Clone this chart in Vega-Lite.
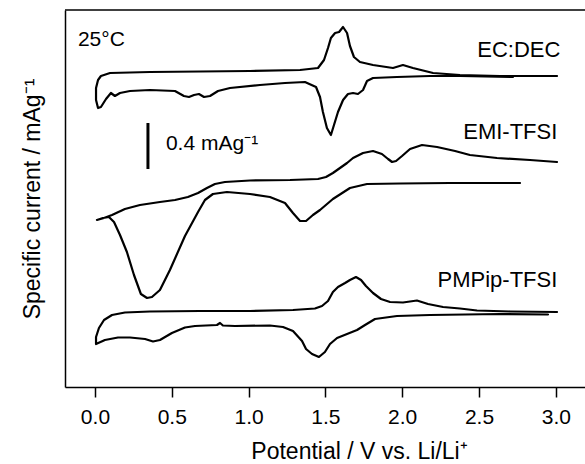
{
  "$schema": "https://vega.github.io/schema/vega-lite/v6.json",
  "width": 520,
  "height": 377,
  "autosize": {"type": "none"},
  "padding": {"left": 65, "top": 10, "right": 0, "bottom": 77},
  "background": "white",
  "config": {
    "view": {"stroke": null},
    "font": "Liberation Sans",
    "axis": {"grid": false}
  },
  "encoding": {
    "x": {
      "field": "v", "type": "quantitative",
      "scale": {"domain": [-0.195, 3.19], "nice": false, "zero": false},
      "axis": {
        "values": [0, 0.5, 1, 1.5, 2, 2.5, 3], "format": ".1f",
        "title": "Potential / V vs. Li/Li⁺",
        "domainColor": "black", "domainWidth": 1.5,
        "tickColor": "black", "tickWidth": 1.5, "tickSize": 10,
        "labelColor": "black", "labelFontSize": 21, "labelPadding": 9,
        "labelFont": "Liberation Sans",
        "titleColor": "black", "titleFontSize": 23, "titleFontWeight": "normal",
        "titleFont": "Liberation Sans", "titlePadding": 13, "titleX": 294
      }
    },
    "y": {
      "field": "c", "type": "quantitative",
      "scale": {"domain": [0, 377], "nice": false, "zero": false},
      "axis": {
        "ticks": false, "labels": false,
        "title": "Specific current / mAg⁻¹",
        "domainColor": "black", "domainWidth": 1.5,
        "titleColor": "black", "titleFontSize": 23, "titleFontWeight": "normal",
        "titleFont": "Liberation Sans", "titlePadding": 21
      }
    }
  },
  "layer": [
    {
      "data": {"values": [
        {"s":"EC:DEC","i":1,"v":2.721,"c":310},{"s":"EC:DEC","i":2,"v":2.376,"c":311},{"s":"EC:DEC","i":3,"v":2.181,"c":311},{"s":"EC:DEC","i":4,"v":1.966,"c":310},{"s":"EC:DEC","i":5,"v":1.810,"c":309},{"s":"EC:DEC","i":6,"v":1.771,"c":306},{"s":"EC:DEC","i":7,"v":1.745,"c":297},{"s":"EC:DEC","i":8,"v":1.712,"c":293},{"s":"EC:DEC","i":9,"v":1.680,"c":294},{"s":"EC:DEC","i":10,"v":1.647,"c":293},{"s":"EC:DEC","i":11,"v":1.615,"c":287},{"s":"EC:DEC","i":12,"v":1.582,"c":275},{"s":"EC:DEC","i":13,"v":1.556,"c":262},{"s":"EC:DEC","i":14,"v":1.536,"c":252},{"s":"EC:DEC","i":15,"v":1.510,"c":259},{"s":"EC:DEC","i":16,"v":1.484,"c":275},{"s":"EC:DEC","i":17,"v":1.465,"c":290},{"s":"EC:DEC","i":18,"v":1.439,"c":300},{"s":"EC:DEC","i":19,"v":1.367,"c":305},{"s":"EC:DEC","i":20,"v":1.237,"c":304},{"s":"EC:DEC","i":21,"v":1.074,"c":302},{"s":"EC:DEC","i":22,"v":0.879,"c":299},{"s":"EC:DEC","i":23,"v":0.801,"c":296},{"s":"EC:DEC","i":24,"v":0.749,"c":291},{"s":"EC:DEC","i":25,"v":0.710,"c":290},{"s":"EC:DEC","i":26,"v":0.677,"c":293},{"s":"EC:DEC","i":27,"v":0.645,"c":292},{"s":"EC:DEC","i":28,"v":0.612,"c":290},{"s":"EC:DEC","i":29,"v":0.579,"c":291},{"s":"EC:DEC","i":30,"v":0.521,"c":296},{"s":"EC:DEC","i":31,"v":0.358,"c":297},{"s":"EC:DEC","i":32,"v":0.228,"c":296},{"s":"EC:DEC","i":33,"v":0.163,"c":294},{"s":"EC:DEC","i":34,"v":0.130,"c":291},{"s":"EC:DEC","i":35,"v":0.104,"c":294},{"s":"EC:DEC","i":36,"v":0.072,"c":288},{"s":"EC:DEC","i":37,"v":0.039,"c":280},{"s":"EC:DEC","i":38,"v":0.020,"c":279},{"s":"EC:DEC","i":39,"v":0.007,"c":287},{"s":"EC:DEC","i":40,"v":0.007,"c":299},{"s":"EC:DEC","i":41,"v":0.020,"c":307},{"s":"EC:DEC","i":42,"v":0.039,"c":311},{"s":"EC:DEC","i":43,"v":0.098,"c":314},{"s":"EC:DEC","i":44,"v":0.358,"c":315},{"s":"EC:DEC","i":45,"v":0.684,"c":315.5},{"s":"EC:DEC","i":46,"v":1.009,"c":316},{"s":"EC:DEC","i":47,"v":1.335,"c":317},{"s":"EC:DEC","i":48,"v":1.452,"c":319},{"s":"EC:DEC","i":49,"v":1.491,"c":327},{"s":"EC:DEC","i":50,"v":1.517,"c":339},{"s":"EC:DEC","i":51,"v":1.536,"c":349},{"s":"EC:DEC","i":52,"v":1.563,"c":354},{"s":"EC:DEC","i":53,"v":1.589,"c":355},{"s":"EC:DEC","i":54,"v":1.615,"c":360},{"s":"EC:DEC","i":55,"v":1.641,"c":354},{"s":"EC:DEC","i":56,"v":1.660,"c":341},{"s":"EC:DEC","i":57,"v":1.686,"c":330},{"s":"EC:DEC","i":58,"v":1.725,"c":325},{"s":"EC:DEC","i":59,"v":1.810,"c":322},{"s":"EC:DEC","i":60,"v":1.940,"c":319},{"s":"EC:DEC","i":61,"v":2.005,"c":322},{"s":"EC:DEC","i":62,"v":2.070,"c":319},{"s":"EC:DEC","i":63,"v":2.201,"c":314},{"s":"EC:DEC","i":64,"v":2.376,"c":312},{"s":"EC:DEC","i":65,"v":2.637,"c":311},{"s":"EC:DEC","i":66,"v":3.008,"c":311},
        {"s":"EMI-TFSI","i":1,"v":2.767,"c":204},{"s":"EMI-TFSI","i":2,"v":2.311,"c":204},{"s":"EMI-TFSI","i":3,"v":1.986,"c":203.5},{"s":"EMI-TFSI","i":4,"v":1.771,"c":203},{"s":"EMI-TFSI","i":5,"v":1.660,"c":199},{"s":"EMI-TFSI","i":6,"v":1.549,"c":188},{"s":"EMI-TFSI","i":7,"v":1.465,"c":177},{"s":"EMI-TFSI","i":8,"v":1.419,"c":172},{"s":"EMI-TFSI","i":9,"v":1.374,"c":166},{"s":"EMI-TFSI","i":10,"v":1.335,"c":166},{"s":"EMI-TFSI","i":11,"v":1.289,"c":174},{"s":"EMI-TFSI","i":12,"v":1.237,"c":184},{"s":"EMI-TFSI","i":13,"v":1.139,"c":190},{"s":"EMI-TFSI","i":14,"v":1.009,"c":193},{"s":"EMI-TFSI","i":15,"v":0.859,"c":195},{"s":"EMI-TFSI","i":16,"v":0.768,"c":193},{"s":"EMI-TFSI","i":17,"v":0.716,"c":187},{"s":"EMI-TFSI","i":18,"v":0.671,"c":175},{"s":"EMI-TFSI","i":19,"v":0.586,"c":151},{"s":"EMI-TFSI","i":20,"v":0.488,"c":117},{"s":"EMI-TFSI","i":21,"v":0.423,"c":97},{"s":"EMI-TFSI","i":22,"v":0.371,"c":90},{"s":"EMI-TFSI","i":23,"v":0.339,"c":89},{"s":"EMI-TFSI","i":24,"v":0.299,"c":93},{"s":"EMI-TFSI","i":25,"v":0.254,"c":112},{"s":"EMI-TFSI","i":26,"v":0.208,"c":135},{"s":"EMI-TFSI","i":27,"v":0.163,"c":152},{"s":"EMI-TFSI","i":28,"v":0.124,"c":165},{"s":"EMI-TFSI","i":29,"v":0.091,"c":170},{"s":"EMI-TFSI","i":30,"v":0.052,"c":169},{"s":"EMI-TFSI","i":31,"v":0.013,"c":167},{"s":"EMI-TFSI","i":32,"v":0.059,"c":169},{"s":"EMI-TFSI","i":33,"v":0.111,"c":172},{"s":"EMI-TFSI","i":34,"v":0.195,"c":178},{"s":"EMI-TFSI","i":35,"v":0.293,"c":182},{"s":"EMI-TFSI","i":36,"v":0.423,"c":185},{"s":"EMI-TFSI","i":37,"v":0.521,"c":187},{"s":"EMI-TFSI","i":38,"v":0.605,"c":190},{"s":"EMI-TFSI","i":39,"v":0.671,"c":194},{"s":"EMI-TFSI","i":40,"v":0.729,"c":199},{"s":"EMI-TFSI","i":41,"v":0.781,"c":203},{"s":"EMI-TFSI","i":42,"v":0.846,"c":205},{"s":"EMI-TFSI","i":43,"v":1.009,"c":206.5},{"s":"EMI-TFSI","i":44,"v":1.270,"c":207},{"s":"EMI-TFSI","i":45,"v":1.452,"c":208},{"s":"EMI-TFSI","i":46,"v":1.504,"c":210},{"s":"EMI-TFSI","i":47,"v":1.549,"c":214},{"s":"EMI-TFSI","i":48,"v":1.595,"c":219},{"s":"EMI-TFSI","i":49,"v":1.641,"c":224},{"s":"EMI-TFSI","i":50,"v":1.680,"c":229},{"s":"EMI-TFSI","i":51,"v":1.745,"c":234},{"s":"EMI-TFSI","i":52,"v":1.810,"c":236},{"s":"EMI-TFSI","i":53,"v":1.868,"c":233},{"s":"EMI-TFSI","i":54,"v":1.908,"c":228},{"s":"EMI-TFSI","i":55,"v":1.934,"c":225},{"s":"EMI-TFSI","i":56,"v":1.960,"c":226},{"s":"EMI-TFSI","i":57,"v":1.999,"c":231},{"s":"EMI-TFSI","i":58,"v":2.051,"c":238},{"s":"EMI-TFSI","i":59,"v":2.129,"c":242},{"s":"EMI-TFSI","i":60,"v":2.227,"c":240},{"s":"EMI-TFSI","i":61,"v":2.344,"c":236},{"s":"EMI-TFSI","i":62,"v":2.441,"c":232},{"s":"EMI-TFSI","i":63,"v":2.617,"c":229},{"s":"EMI-TFSI","i":64,"v":2.832,"c":227},{"s":"EMI-TFSI","i":65,"v":3.008,"c":225},
        {"s":"PMPip-TFSI","i":1,"v":2.949,"c":72.5},{"s":"PMPip-TFSI","i":2,"v":2.637,"c":73},{"s":"PMPip-TFSI","i":3,"v":2.181,"c":72},{"s":"PMPip-TFSI","i":4,"v":1.966,"c":71},{"s":"PMPip-TFSI","i":5,"v":1.823,"c":68},{"s":"PMPip-TFSI","i":6,"v":1.758,"c":62},{"s":"PMPip-TFSI","i":7,"v":1.706,"c":57},{"s":"PMPip-TFSI","i":8,"v":1.641,"c":53},{"s":"PMPip-TFSI","i":9,"v":1.576,"c":49},{"s":"PMPip-TFSI","i":10,"v":1.530,"c":43},{"s":"PMPip-TFSI","i":11,"v":1.497,"c":35},{"s":"PMPip-TFSI","i":12,"v":1.458,"c":30},{"s":"PMPip-TFSI","i":13,"v":1.413,"c":33},{"s":"PMPip-TFSI","i":14,"v":1.374,"c":38},{"s":"PMPip-TFSI","i":15,"v":1.348,"c":46},{"s":"PMPip-TFSI","i":16,"v":1.289,"c":56},{"s":"PMPip-TFSI","i":17,"v":1.224,"c":60},{"s":"PMPip-TFSI","i":18,"v":1.139,"c":61.5},{"s":"PMPip-TFSI","i":19,"v":0.911,"c":61},{"s":"PMPip-TFSI","i":20,"v":0.833,"c":61.5},{"s":"PMPip-TFSI","i":21,"v":0.814,"c":64},{"s":"PMPip-TFSI","i":22,"v":0.794,"c":62},{"s":"PMPip-TFSI","i":23,"v":0.651,"c":61},{"s":"PMPip-TFSI","i":24,"v":0.586,"c":59.5},{"s":"PMPip-TFSI","i":25,"v":0.501,"c":54},{"s":"PMPip-TFSI","i":26,"v":0.423,"c":47},{"s":"PMPip-TFSI","i":27,"v":0.378,"c":45.5},{"s":"PMPip-TFSI","i":28,"v":0.326,"c":48},{"s":"PMPip-TFSI","i":29,"v":0.228,"c":49.5},{"s":"PMPip-TFSI","i":30,"v":0.150,"c":49.5},{"s":"PMPip-TFSI","i":31,"v":0.065,"c":47},{"s":"PMPip-TFSI","i":32,"v":0.007,"c":43},{"s":"PMPip-TFSI","i":33,"v":0.007,"c":50},{"s":"PMPip-TFSI","i":34,"v":0.026,"c":59},{"s":"PMPip-TFSI","i":35,"v":0.059,"c":67},{"s":"PMPip-TFSI","i":36,"v":0.111,"c":72},{"s":"PMPip-TFSI","i":37,"v":0.195,"c":74.5},{"s":"PMPip-TFSI","i":38,"v":0.358,"c":75.5},{"s":"PMPip-TFSI","i":39,"v":0.684,"c":76},{"s":"PMPip-TFSI","i":40,"v":1.009,"c":76},{"s":"PMPip-TFSI","i":41,"v":1.289,"c":77},{"s":"PMPip-TFSI","i":42,"v":1.432,"c":78.5},{"s":"PMPip-TFSI","i":43,"v":1.478,"c":81},{"s":"PMPip-TFSI","i":44,"v":1.517,"c":86},{"s":"PMPip-TFSI","i":45,"v":1.549,"c":95},{"s":"PMPip-TFSI","i":46,"v":1.582,"c":100},{"s":"PMPip-TFSI","i":47,"v":1.628,"c":104},{"s":"PMPip-TFSI","i":48,"v":1.660,"c":107},{"s":"PMPip-TFSI","i":49,"v":1.699,"c":110},{"s":"PMPip-TFSI","i":50,"v":1.732,"c":107},{"s":"PMPip-TFSI","i":51,"v":1.764,"c":101},{"s":"PMPip-TFSI","i":52,"v":1.810,"c":94},{"s":"PMPip-TFSI","i":53,"v":1.862,"c":88},{"s":"PMPip-TFSI","i":54,"v":1.921,"c":85},{"s":"PMPip-TFSI","i":55,"v":2.005,"c":84.5},{"s":"PMPip-TFSI","i":56,"v":2.096,"c":86.5},{"s":"PMPip-TFSI","i":57,"v":2.168,"c":83},{"s":"PMPip-TFSI","i":58,"v":2.266,"c":80},{"s":"PMPip-TFSI","i":59,"v":2.376,"c":78.5},{"s":"PMPip-TFSI","i":60,"v":2.487,"c":76.5},{"s":"PMPip-TFSI","i":61,"v":2.702,"c":75.5},{"s":"PMPip-TFSI","i":62,"v":3.008,"c":75}
      ]},
      "mark": {"type": "line", "color": "black", "strokeWidth": 2.2, "strokeJoin": "round", "strokeCap": "round"},
      "encoding": {
        "detail": {"field": "s", "type": "nominal"},
        "order": {"field": "i", "type": "quantitative"}
      }
    },
    {
      "data": {"values": [{"v": 0.345, "c": 218, "c2": 264}]},
      "mark": {"type": "rule", "color": "black", "strokeWidth": 3},
      "encoding": {"y2": {"field": "c2"}}
    },
    {
      "data": {"values": [{"v": -0.195, "v2": 3.19, "c": 377}]},
      "mark": {"type": "rule", "color": "black", "strokeWidth": 1.5},
      "encoding": {"x2": {"field": "v2"}}
    },
    {
      "data": {"values": [
        {"v": -0.111, "c": 347, "t": "25°C"},
        {"v": 0.462, "c": 243, "t": "0.4 mAg⁻¹"}
      ]},
      "mark": {"type": "text", "align": "left", "baseline": "middle", "fontSize": 21, "color": "black", "font": "Liberation Sans"},
      "encoding": {"text": {"field": "t"}}
    },
    {
      "data": {"values": [
        {"v": 3.03, "c": 337, "t": "EC:DEC"},
        {"v": 3.01, "c": 255, "t": "EMI-TFSI"},
        {"v": 3.01, "c": 107, "t": "PMPip-TFSI"}
      ]},
      "mark": {"type": "text", "align": "right", "baseline": "middle", "fontSize": 22, "color": "black", "font": "Liberation Sans"},
      "encoding": {"text": {"field": "t"}}
    }
  ]
}
